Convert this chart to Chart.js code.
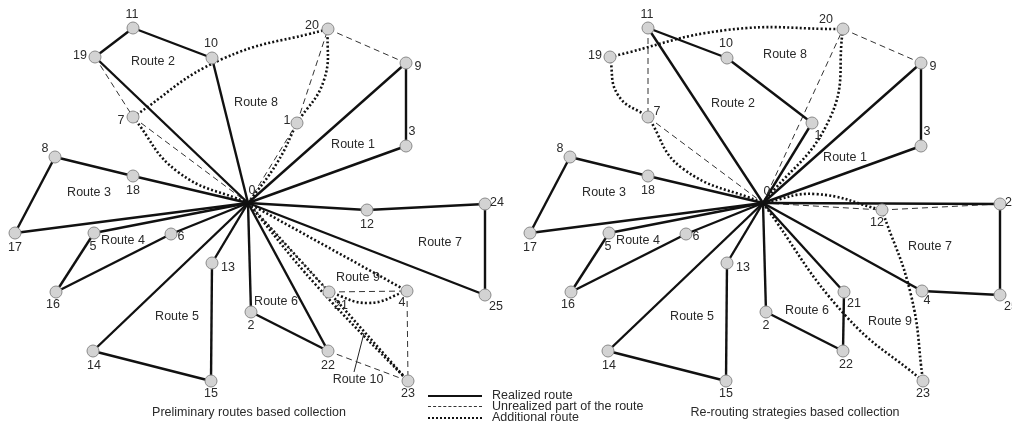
<!DOCTYPE html>
<html>
<head>
<meta charset="utf-8">
<script src="https://cdn.jsdelivr.net/npm/chart.js@4.4.0/dist/chart.umd.min.js"></script>
<style>
  body { margin: 0; background: #fff; }
  #wrap { position: relative; width: 1012px; height: 439px; overflow: hidden;
          font-family: "Liberation Sans", Arial, sans-serif; color: #2a2a2a; }
  canvas { position: absolute; top: 0; }
  #chartA { left: 0; }
  #chartB { left: 515px; }
  .cap { position: absolute; top: 405px; font-size: 12.5px; text-align: center; white-space: nowrap; }
  #legend { position: absolute; left: 428px; top: 389px; font-size: 12.5px; }
  #legend .row { position: relative; height: 11px; line-height: 13px; padding-left: 64px; white-space: nowrap; }
  #legend .ln { position: absolute; left: 0; top: 6px; width: 54px; }
  .ln.solid { border-top: 2px solid #111; }
  .ln.dash { border-top: 1px dashed #333; }
  .ln.dot { border-top: 2px dotted #111; }
</style>
</head>
<body>
<div id="wrap">
  <canvas id="chartA" width="515" height="439"></canvas>
  <canvas id="chartB" width="497" height="439"></canvas>
  <div class="cap" style="left:0;width:498px;">Preliminary routes based collection</div>
  <div class="cap" style="left:595px;width:400px;">Re-routing strategies based collection</div>
  <div id="legend">
    <div class="row"><span class="ln solid"></span>Realized route</div>
    <div class="row"><span class="ln dash"></span>Unrealized part of the route</div>
    <div class="row"><span class="ln dot"></span>Additional route</div>
  </div>
</div>
<script>
// Nós (índice = número do nó); mesma posição nos dois esquemas
const nodeIds = ["0","1","2","3","4","5","6","7","8","9","10","11","12","13","14","15","16","17","18","19","20","21","22","23","24","25"];
const nodeX = [248, 297, 251, 406, 407, 94, 171, 133, 55, 406, 212, 133, 367, 212, 93, 211, 56, 15, 133, 95, 328, 329, 328, 408, 485, 485];
const nodeY = [203, 123, 312, 146, 291, 233, 234, 117, 157, 63, 58, 28, 210, 263, 351, 381, 292, 233, 176, 57, 29, 292, 351, 381, 204, 295];

// Esquema esquerdo: rotas preliminares
const realizedA = [[0,19],[19,11],[11,10],[10,0],[0,9],[9,3],[3,0],[0,18],[18,8],[8,17],[17,0],
  [0,5],[5,16],[16,6],[6,0],[0,13],[13,15],[15,14],[14,0],[0,2],[2,22],[22,0],[0,12],[12,24],[24,25],[25,0]];
const unrealizedA = [[19,7],[7,0],[0,1],[1,20],[20,9],[0,21],[21,4],[4,23],[23,22]];
// [de, para, (ponto intermédio da curva x, y)]
const additionalA = [[0,4],[0,21],[21,23],[0,23,316,285],[7,20,220,60],[7,0,178,172],[1,20,324,80],[0,1,277,163],[21,4,368,303]];
const pointerA = [[364,333],[354,372]];

// Esquema direito: re-routing
const realizedB = [[0,11],[11,10],[10,1],[1,0],[0,9],[9,3],[3,0],[0,18],[18,8],[8,17],[17,0],
  [0,5],[5,16],[16,6],[6,0],[0,13],[13,15],[15,14],[14,0],[0,2],[2,22],[22,21],[21,0],[0,24],[24,25],[25,4],[4,0]];
const unrealizedB = [[11,7],[7,0],[0,20],[20,9],[0,12],[12,24]];
const additionalB = [[19,20,212,30],[19,7,103,95],[7,0,167,168],[0,20,315,118],[0,12,300,194],[12,23,396,295],[0,23,330,315]];

const routeNames = ["Route 1","Route 2","Route 3","Route 4","Route 5","Route 6","Route 7","Route 8","Route 9","Route 10"];
const routeXA = [353, 153, 89, 123, 177, 276, 440, 256, 358, 358];
const routeYA = [145, 62, 193, 241, 317, 302, 243, 103, 278, 380];
const routeXB = [330, 218, 89, 123, 177, 292, 415, 270, 375];
const routeYB = [158, 104, 193, 241, 317, 311, 247, 55, 322];

// deslocamento das etiquetas dos nós
const labelOffA = [[4,-12],[-10,-2],[0,14],[6,-14],[-5,12],[-1,14],[10,3],[-12,4],[-10,-8],[12,4],[-1,-14],[-1,-13],[0,15],
  [16,5],[1,15],[0,13],[-3,13],[0,15],[0,15],[-15,-1],[-16,-3],[12,14],[0,15],[0,13],[12,-1],[11,12]];
const labelOffB = labelOffA.map(o => o.slice());
labelOffB[0] = [4,-11]; labelOffB[1] = [6,13]; labelOffB[4] = [5,10]; labelOffB[7] = [9,-5];
labelOffB[12] = [-5,13]; labelOffB[20] = [-17,-9]; labelOffB[21] = [10,12]; labelOffB[22] = [3,14];

const estilos = {
  solid: { borderColor: "#111", borderWidth: 2.4 },
  dash: { borderColor: "#333", borderWidth: 1, borderDash: [6, 4] },
  dot: { borderColor: "#111", borderWidth: 2.6, borderDash: [2, 2.2] },
  thin: { borderColor: "#222", borderWidth: 1 }
};

function edgeDatasets(edges, estilo) {
  return edges.map(e => {
    const pts = [{ x: nodeX[e[0]], y: nodeY[e[0]] }];
    if (e.length > 2) pts.push({ x: e[2], y: e[3] });
    pts.push({ x: nodeX[e[1]], y: nodeY[e[1]] });
    return Object.assign({
      data: pts, showLine: true, pointRadius: 0, pointHoverRadius: 0,
      tension: e.length > 2 ? 0.45 : 0, fill: false, order: 2, clip: false
    }, estilo);
  });
}

function nodeDataset() {
  const pts = [];
  for (let i = 1; i < nodeIds.length; i++) pts.push({ x: nodeX[i], y: nodeY[i] });
  return {
    data: pts, showLine: false, pointRadius: 6, pointHoverRadius: 6,
    pointBackgroundColor: "#d3d3d3", pointBorderColor: "#8a8a8a", pointBorderWidth: 1,
    order: 0, clip: false
  };
}

function labelPlugin(offsets, rx, ry) {
  return {
    id: "nodeLabels",
    afterDatasetsDraw(chart) {
      const { ctx, scales: { x, y } } = chart;
      ctx.save();
      ctx.font = '12.5px "Liberation Sans", Arial, sans-serif';
      ctx.fillStyle = "#2a2a2a";
      ctx.textAlign = "center";
      ctx.textBaseline = "middle";
      offsets.forEach((o, i) => {
        ctx.fillText(nodeIds[i], x.getPixelForValue(nodeX[i] + o[0]), y.getPixelForValue(nodeY[i] + o[1]));
      });
      rx.forEach((v, i) => {
        ctx.fillText(routeNames[i], x.getPixelForValue(v), y.getPixelForValue(ry[i]));
      });
      ctx.restore();
    }
  };
}

function desenhar(id, largura, datasets, plugin) {
  return new Chart(document.getElementById(id), {
    type: "scatter",
    data: { datasets },
    options: {
      responsive: false,
      animation: false,
      events: [],
      layout: { padding: 0, autoPadding: false },
      plugins: { legend: { display: false }, tooltip: { enabled: false } },
      scales: {
        x: { type: "linear", min: 0, max: largura, display: false },
        y: { type: "linear", min: 0, max: 439, reverse: true, display: false }
      }
    },
    plugins: [plugin]
  });
}

const dsA = [].concat(
  edgeDatasets(realizedA, estilos.solid),
  edgeDatasets(unrealizedA, estilos.dash),
  edgeDatasets(additionalA, estilos.dot),
  [Object.assign({ data: pointerA.map(p => ({ x: p[0], y: p[1] })), showLine: true, pointRadius: 0, order: 2, clip: false }, estilos.thin)],
  [nodeDataset()]
);
const dsB = [].concat(
  edgeDatasets(realizedB, estilos.solid),
  edgeDatasets(unrealizedB, estilos.dash),
  edgeDatasets(additionalB, estilos.dot),
  [nodeDataset()]
);

desenhar("chartA", 515, dsA, labelPlugin(labelOffA, routeXA, routeYA));
desenhar("chartB", 497, dsB, labelPlugin(labelOffB, routeXB, routeYB));
</script>
</body>
</html>
